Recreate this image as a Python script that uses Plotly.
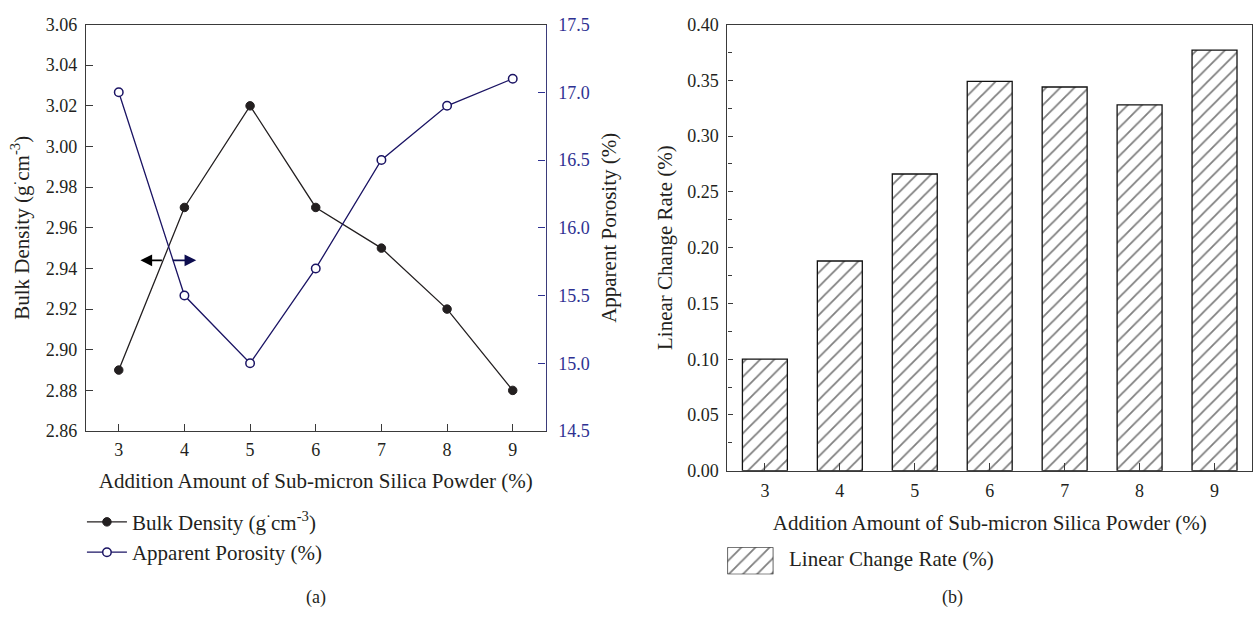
import plotly.graph_objects as go

# ---------------- data ----------------
additions = [3, 4, 5, 6, 7, 8, 9]
bulk_density = [2.89, 2.97, 3.02, 2.97, 2.95, 2.92, 2.88]
apparent_porosity = [17.0, 15.5, 15.0, 15.7, 16.5, 16.9, 17.1]
linear_change = [0.100, 0.188, 0.266, 0.349, 0.344, 0.328, 0.377]

# arrows marking which axis each series belongs to (data coords of left plot)
arrow_y = 2.944
arrow_left = (3.68, 3.33)   # tail x, head x (black, points left)
arrow_right = (3.80, 4.18)  # tail x, head x (navy, points right)

W, H = 1253, 624
FONT = "Liberation Serif, Times New Roman, serif"
FS_TICK = 18
FS_TXT = 21
INK = "#231f20"
NAVY = "#1b1464"
NAVY_TXT = "#2e3192"
AXC = "#3a3a3a"


def px_x(p):
    return p / W


def px_y(p):
    return 1 - p / H


fig = go.Figure()

# ---------------- left plot ----------------
fig.add_trace(go.Scatter(
    x=additions, y=bulk_density, mode="lines+markers",
    name="Bulk Density (g<sup>·</sup>cm<sup>-3</sup>)",
    line=dict(color=INK, width=1.3),
    marker=dict(symbol="circle", size=8.5, color=INK, line=dict(color=INK, width=1)),
    xaxis="x", yaxis="y", legend="legend",
))
fig.add_trace(go.Scatter(
    x=additions, y=apparent_porosity, mode="lines+markers",
    name="Apparent Porosity (%)",
    line=dict(color=NAVY, width=1.3),
    marker=dict(symbol="circle", size=8.5, color="white", line=dict(color=NAVY, width=1.5)),
    xaxis="x", yaxis="y2", legend="legend",
))

hatch = dict(shape="/", fgcolor="#000000", bgcolor="white", size=10, solidity=0.18)

# ---------------- right plot ----------------
fig.add_trace(go.Bar(
    x=additions, y=linear_change, width=0.6,
    name="Linear Change Rate (%)",
    marker=dict(color="white", line=dict(color="#111111", width=1.3), pattern=hatch),
    xaxis="x2", yaxis="y3", showlegend=False,
))

# legend swatch for (b), drawn as a bar in its own tiny axes
fig.add_trace(go.Bar(
    x=[0], y=[1], width=1,
    marker=dict(color="white", line=dict(color="#111111", width=1.3), pattern=hatch),
    xaxis="x3", yaxis="y4", showlegend=False, hoverinfo="skip",
))

tickfont = dict(family=FONT, size=FS_TICK, color=INK)
titlefont = dict(family=FONT, size=FS_TXT, color=INK)

fig.update_layout(
    width=W, height=H,
    margin=dict(l=0, r=0, t=0, b=0),
    paper_bgcolor="white", plot_bgcolor="white",
    font=dict(family=FONT, size=FS_TXT, color=INK),
    xaxis=dict(
        domain=[px_x(86), px_x(546)], anchor="y",
        range=[2.5, 9.5], tickvals=additions, ticktext=[str(v) for v in additions],
        ticks="inside", ticklen=7, tickcolor=AXC, tickwidth=1.2,
        showline=True, linecolor=AXC, linewidth=1.3, mirror=True,
        showgrid=False, zeroline=False, tickfont=tickfont, ticklabelstandoff=2,
        title=dict(text="Addition Amount of Sub-micron Silica Powder (%)",
                   font=titlefont, standoff=14),
    ),
    yaxis=dict(
        domain=[px_y(435), px_y(15)], anchor="x",
        range=[2.86, 3.06], dtick=0.02, tickformat=".2f",
        ticks="inside", ticklen=7, tickcolor=AXC, tickwidth=1.2,
        showline=True, linecolor=AXC, linewidth=1.3,
        showgrid=False, zeroline=False, tickfont=tickfont, ticklabelstandoff=4,
        title=dict(text="Bulk Density (g<sup>·</sup>cm<sup>-3</sup>)",
                   font=titlefont, standoff=10),
    ),
    yaxis2=dict(
        domain=[px_y(435), px_y(15)], anchor="x", overlaying="y", side="right",
        range=[14.5, 17.5], dtick=0.5, tickformat=".1f",
        ticks="inside", ticklen=7, tickcolor=NAVY_TXT, tickwidth=1.2,
        showline=True, linecolor="#3b3b7a", linewidth=1.3,
        showgrid=False, zeroline=False, ticklabelstandoff=8,
        tickfont=dict(family=FONT, size=FS_TICK, color=NAVY_TXT),
        title=dict(text="Apparent Porosity (%)", font=titlefont, standoff=12),
    ),
    xaxis2=dict(
        domain=[px_x(728), px_x(1253)], anchor="y3",
        range=[2.5, 9.5], tickvals=additions, ticktext=[str(v) for v in additions],
        ticks="inside", ticklen=8, tickcolor=AXC, tickwidth=1.2,
        showline=True, linecolor=AXC, linewidth=1.3, mirror=True,
        showgrid=False, zeroline=False, tickfont=tickfont, ticklabelstandoff=4,
        title=dict(text="Addition Amount of Sub-micron Silica Powder (%)",
                   font=titlefont, standoff=14),
    ),
    yaxis3=dict(
        domain=[px_y(476), px_y(15)], anchor="x2",
        range=[0, 0.40], dtick=0.05, tickformat=".2f",
        ticks="inside", ticklen=5, tickcolor=AXC, tickwidth=1.2,
        minor=dict(ticks="inside", ticklen=4, dtick=0.025, tickcolor=AXC, tickwidth=1),
        showline=True, linecolor=AXC, linewidth=1.3, mirror=True,
        showgrid=False, zeroline=False, tickfont=tickfont, ticklabelstandoff=4,
        title=dict(text="Linear Change Rate (%)", font=titlefont, standoff=8),
    ),
    xaxis3=dict(
        domain=[px_x(728), px_x(774)], anchor="y4", range=[-0.5, 0.5],
        visible=False, fixedrange=True,
    ),
    yaxis4=dict(
        domain=[px_y(583), px_y(555)], anchor="x3", range=[0, 1],
        visible=False, fixedrange=True,
    ),
    legend=dict(
        x=px_x(82), y=px_y(508), xanchor="left", yanchor="top",
        font=dict(family=FONT, size=FS_TXT, color=INK),
        bgcolor="rgba(0,0,0,0)", borderwidth=0, tracegroupgap=0,
        itemwidth=40,
    ),
    showlegend=True,
)

annotations = [
    dict(x=arrow_left[1], y=arrow_y, ax=arrow_left[0], ay=arrow_y,
         xref="x", yref="y", axref="x", ayref="y", text="", showarrow=True,
         arrowhead=2, arrowsize=1.3, arrowwidth=1.8, arrowcolor="#000000"),
    dict(x=arrow_right[1], y=arrow_y, ax=arrow_right[0], ay=arrow_y,
         xref="x", yref="y", axref="x", ayref="y", text="", showarrow=True,
         arrowhead=2, arrowsize=1.3, arrowwidth=1.8, arrowcolor="#0d0d4f"),
    dict(x=px_x(788), y=px_y(567), xref="paper", yref="paper", xanchor="left",
         yanchor="middle", text="Linear Change Rate (%)", showarrow=False,
         font=dict(family=FONT, size=FS_TXT, color=INK)),
    dict(x=px_x(316), y=px_y(607), xref="paper", yref="paper", xanchor="center",
         yanchor="middle", text="(a)", showarrow=False,
         font=dict(family=FONT, size=FS_TICK, color=INK)),
    dict(x=px_x(953), y=px_y(607), xref="paper", yref="paper", xanchor="center",
         yanchor="middle", text="(b)", showarrow=False,
         font=dict(family=FONT, size=FS_TICK, color=INK)),
]
fig.update_layout(annotations=annotations)

fig.write_html("out.html")
